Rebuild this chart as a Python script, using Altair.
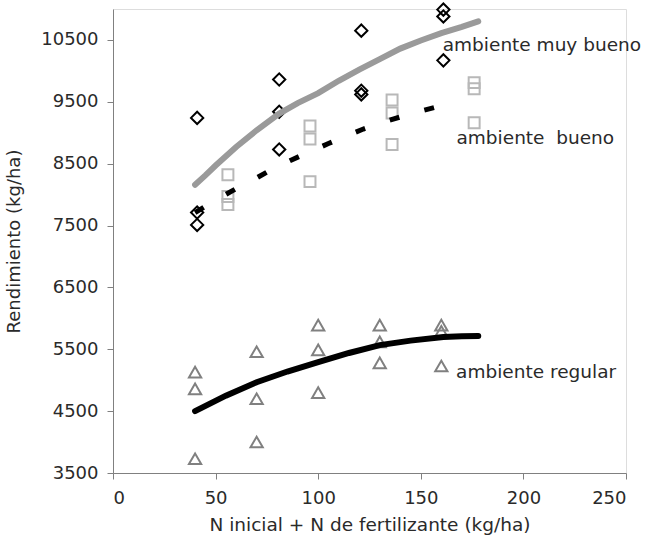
import altair as alt
import pandas as pd

# Observed points
mb_x = [41, 41, 41, 81, 81, 81, 121, 121, 121, 161, 161, 161]
mb_y = [9240, 7710, 7510, 9860, 9340, 8730, 10650, 9680, 9620, 10990, 10880, 10170]

b_x = [56, 56, 56, 96, 96, 96, 136, 136, 136, 176, 176, 176]
b_y = [8320, 7970, 7840, 9110, 8900, 8210, 9530, 9320, 8810, 9810, 9710, 9160]

r_x = [40, 40, 40, 70, 70, 70, 100, 100, 100, 130, 130, 130, 160, 160, 160]
r_y = [5130, 4860, 3730, 5460, 4700, 4000, 5890, 5490, 4800, 5890, 5620, 5280, 5890, 5790, 5230]

# Fitted curves
cmb_x = [40, 45, 50, 60, 70, 81, 90, 100, 110, 120, 130, 140, 150, 160, 170, 178]
cmb_y = [8160, 8310, 8470, 8770, 9040, 9310, 9480, 9640, 9840, 10020, 10190, 10360, 10490, 10610, 10710, 10800]

cb_x = [40, 50, 60, 70, 78, 87, 96, 105, 114, 122, 131, 140, 149, 158, 167]
cb_y = [7710, 7910, 8095, 8270, 8420, 8560, 8695, 8825, 8953, 9060, 9164, 9255, 9342, 9420, 9488]

cr_x = [40, 55, 70, 85, 100, 115, 130, 145, 161, 170, 178]
cr_y = [4500, 4750, 4968, 5140, 5292, 5440, 5567, 5640, 5697, 5710, 5713]

lab_text = ["ambiente muy bueno", "ambiente\u00a0 bueno", "ambiente regular"]
lab_x = [160.7, 167.4, 167.2]
lab_y = [10420, 8920, 5130]

FONT = "DejaVu Sans"
TXT = "#2a2a2a"

xs = alt.Scale(domain=[0, 250], nice=False)
ys = alt.Scale(domain=[3500, 11000], nice=False, zero=False)

X = alt.X("x:Q", scale=xs, axis=alt.Axis(
    title="N inicial + N de fertilizante (kg/ha)", values=[0, 50, 100, 150, 200, 250],
    format="d", grid=False, domainColor="#808080", tickColor="#808080", tickSize=6,
    labelFont=FONT, labelFontSize=18, labelColor=TXT, labelPadding=10,
    titleFont=FONT, titleFontSize=18.5, titleFontWeight="normal", titleColor=TXT,
    titlePadding=8))
Y = alt.Y("y:Q", scale=ys, axis=alt.Axis(
    title="Rendimiento (kg/ha)", values=list(range(3500, 11000, 1000)),
    format="d", grid=False, domainColor="#808080", tickColor="#808080", tickSize=6,
    labelFont=FONT, labelFontSize=18, labelColor=TXT, labelPadding=9,
    titleFont=FONT, titleFontSize=18, titleFontWeight="normal", titleColor=TXT,
    titlePadding=17))

df_mb = pd.DataFrame({"x": mb_x, "y": mb_y})
df_b = pd.DataFrame({"x": b_x, "y": b_y})
df_r = pd.DataFrame({"x": r_x, "y": r_y})
df_cmb = pd.DataFrame({"x": cmb_x, "y": cmb_y})
df_cb = pd.DataFrame({"x": cb_x, "y": cb_y})
df_cr = pd.DataFrame({"x": cr_x, "y": cr_y})
df_lab = pd.DataFrame({"x": lab_x, "y": lab_y, "t": lab_text})

p_mb = alt.Chart(df_mb).mark_point(shape="diamond", size=150, filled=False, color="black",
                                   strokeWidth=2, opacity=1).encode(x=X, y=Y)
p_b = alt.Chart(df_b).mark_point(shape="square", size=120, filled=False, color="#b8b8b8",
                                 strokeWidth=2, opacity=1).encode(x=X, y=Y)
p_r = alt.Chart(df_r).mark_point(shape="triangle-up", size=150, filled=False, color="#808080",
                                 strokeWidth=2, opacity=1).encode(x=X, y=Y)

l_mb = alt.Chart(df_cmb).mark_line(color="#9a9a9a", strokeWidth=6, strokeCap="round").encode(x=X, y=Y)
l_b = alt.Chart(df_cb).mark_line(color="black", strokeWidth=5, strokeDash=[10, 26]).encode(x=X, y=Y)
l_r = alt.Chart(df_cr).mark_line(color="black", strokeWidth=6, strokeCap="round").encode(x=X, y=Y)

labels = alt.Chart(df_lab).mark_text(align="left", baseline="middle", font=FONT,
                                     fontSize=18.5, color=TXT).encode(x=X, y=Y, text="t:N")

chart = alt.layer(p_mb, p_b, p_r, l_mb, l_b, l_r, labels).properties(
    width=513, height=464,
    autosize=alt.AutoSizeParams(type="none"),
    padding={"left": 113, "top": 9, "right": 19, "bottom": 75},
).configure_view(stroke=None).configure(background="white")

chart.save("out.html", embed_options={"renderer": "svg", "actions": False})
